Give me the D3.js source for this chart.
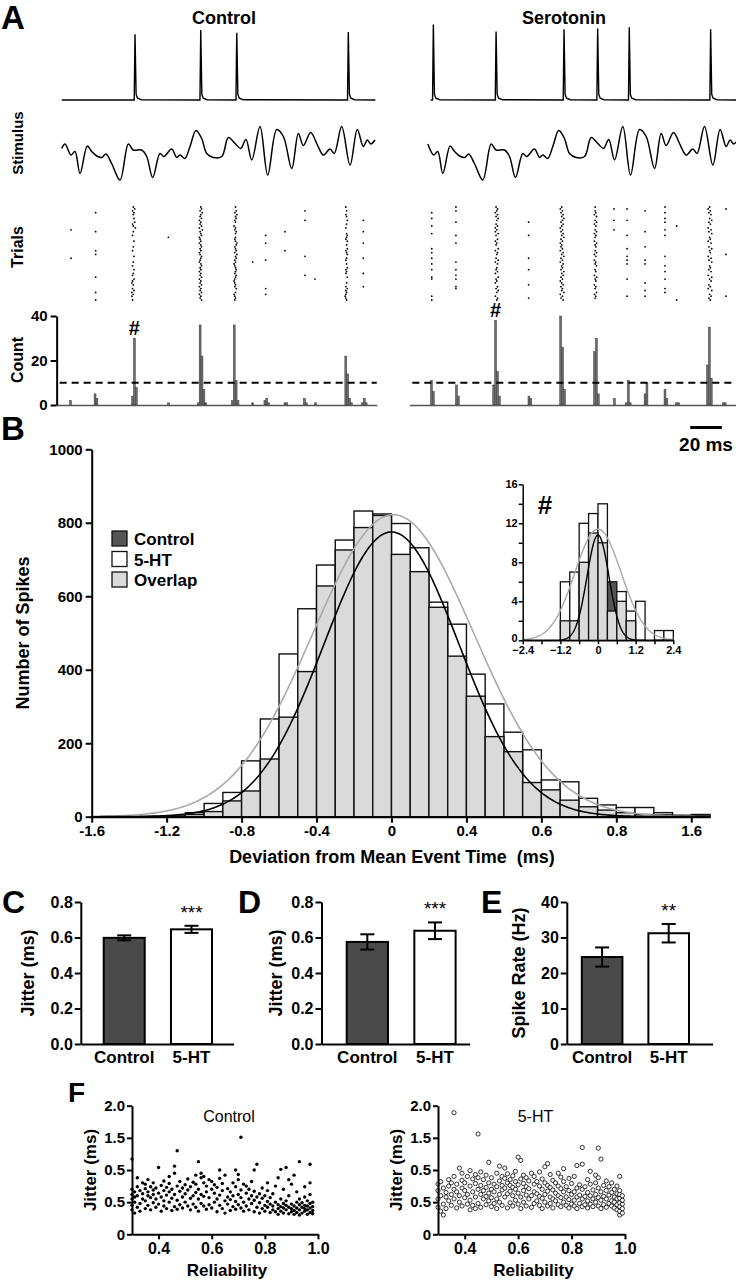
<!DOCTYPE html>
<html><head><meta charset="utf-8">
<script src="https://cdn.jsdelivr.net/npm/d3@7"></script>
<style>body{margin:0;background:#fff}svg{display:block}</style>
</head><body><svg id="c" width="736" height="1280"></svg>
<script>
// ================= DATA =================
// Panel A: stimulus waveform (ms, pA)
const stimT = [0,2.1,5.9,8.4,11.6,16.2,19,22.2,25.3,28,31.6,36.9,42.2,45.3,50.6,53.8,57.6,62.2,64.7,69.6,72.8,74.9,78,81.2,85,88.6,91.8,96,101.3,105.5,109.7,113.3,116.6,120.3,125.5,130.4,136.1,140.3,145.6,149.8,152.9,157.6,161.4,165.6,169.8,172.5,177.2,182.5,187.1,190.9,193.4,195.6,198.3];
const stimV = [3,12,-10,-3,-47,8,-3,-12,-15,-8,-27,-60,12,0,0,-13,-55,-7,-13,2,-15,-10,-17,7,39,23,-7,-15,-13,25,13,3,21,-20,47,-50,41,27,-37,33,9,35,13,-10,2,-7,47,-30,41,7,20,12,20];
// voltage traces: spike times (ms) and peak (mV)
const ctrlSpikeT = [46.4, 88.0, 110.8, 181.4];
const ctrlSpikePeak = [34, 40, 36, 37];
const serSpikeT = [5.6, 45.3, 88.3, 109.6, 129.6, 181.1];
const serSpikePeak = [48, 38, 41, 42, 44, 41];
// raster: dense events (time, per-trial offset code; '.' = no spike)
const ctrlDenseT = [45.3, 87.6, 110.0, 180.3];
const ctrlDenseCode = [
 "46354.5.6347.4.3..5..4.3..5..4.3.5.43.5324.35242.3",
 "56475463546374563453564534654356453546354635463546",
 "4.5364534.24354.4346534536453423454354323435.42343",
 "3.4.34.5.4.3..45435.4.5345.43.4.5343.5..4.35343234"];
const serDenseT = [45.3, 86.4, 108.0, 180.0];
const serDenseCode = [
 "46536475.4635374.6354.7365.4736.5463.7453.6475.365",
 "53647586475364758463546375846375648574635746583647",
 "4.4536.4635.46354.3645.4635.3546.45.3645.354.6354.",
 "53647.5846.3748.5637.4856.3748.5647.3857.4638.5746"];
const ctrlSparseT = [5.9, 21.5, 67.5, 120.9, 129.1, 141.3, 154, 160.3, 190.9];
const ctrlSparseTrials = [[12,27],[3,13,23,25,37,45,49],[16],[29],[15,19,28,43,46],[13,23],[2,7,26,36],[38],[7,13,19,27,35,42]];
const serSparseT = [4.6, 19.9, 65.9, 119.9, 128.2, 139.6, 152.2, 159.6, 190.8];
const serSparseTrials = [[3,6,10,14,22,24,27,30,33,37,38,47,49],[0,2,8,15,19,29,33,36,38,42,43],[8,15,27,33,41,48],[1,7,12],[1,7,15,22,26,28,30,38,47],[2,13,21,28,30,40,44,47],[0,3,6,8,12,15,26,31,34,38,43,45],[10,49],[1,25,47]];
// PSTH (bin start ms, count)
const ctrlHistT = [5,20.5,21.7,44.2,45.4,46.6,67,85.8,87,88.2,89.4,90.6,107.4,108.6,109.8,111,120.3,128,129.2,130.4,140.7,141.9,153,154.2,160,179.2,180.4,181.6,182.8,189.7,190.9,192.1];
const ctrlHistN = [2,5,3,4,30,8,1,1,36,22,7,1,2,36,11,2,1,2,3,1,1,1,3,1,1,22,14,3,1,1,3,1];
const serHistT = [3.8,5,19.6,20.8,43.2,44.4,45.6,46.8,65.5,66.7,85.6,86.8,88,107,108.2,109.4,119.6,127.2,128.4,129.6,139,140.2,151.6,152.8,159,160.2,178.5,179.7,180.9,188.5,189.7];
const serHistN = [11,6,9,4,9,38,15,4,4,3,40,26,7,24,30,5,3,1,11,1,5,10,7,3,1,1,18,35,12,1,1];
const countTicks = [0, 20, 40];
const eventThreshold = 10;

// Panel B: histogram of deviation from mean event time
const devBinStart = [-1.6,-1.5,-1.4,-1.3,-1.2,-1.1,-1.0,-0.9,-0.8,-0.7,-0.6,-0.5,-0.4,-0.3,-0.2,-0.1,0,0.1,0.2,0.3,0.4,0.5,0.6,0.7,0.8,0.9,1.0,1.1,1.2,1.3,1.4,1.5,1.6];
const dev5HT    = [0,0,0,1,2,11,36,66,152,266,443,566,685,753,832,824,798,732,584,524,388,307,230,182,100,95,50,32,25,25,11,4,6];
const devCtrl   = [0,0,0,0,1,6,14,43,70,157,271,395,628,726,787,820,714,667,570,437,328,218,177,93,73,45,27,18,11,6,5,2,3];
const devTickVals = [-1.6,-1.2,-0.8,-0.4,0,0.4,0.8,1.2,1.6];
const devTickLabels = ["-1.6","-1.2","-0.8","-0.4","0","0.4","0.6","0.8","1.6"];
const fitCtrl = [775, 0.0, 0.36];   // amplitude, mean, sd
const fit5HT  = [822, 0.01, 0.43];
// inset (#)
const insBinStart = [-1.2,-0.9,-0.6,-0.3,0,0.3,0.6,0.9,1.2,1.5,1.8,2.1];
const ins5HT  = [6,7,12,13,14,3,5,3,4,0,1,1];
const insCtrl = [2,2,8,11,10,6,4,2,0,0,0,0];
const insFitCtrl = [10.8, 0, 0.35];
const insFit5HT  = [11.4, 0, 0.74];
const legendItems = ["Control","5-HT","Overlap"];

// Panels C-E
const groups = ["Control","5-HT"];
const jitterC = [0.598, 0.646], jitterCErr = [0.014, 0.020];
const jitterD = [0.575, 0.638], jitterDErr = [0.043, 0.047];
const rateE   = [24.5, 31.2],   rateEErr   = [2.7, 2.6];

// Panel F: reliability vs jitter (columns: reliability, jitters)
const scatterCtrl = [
[0.30,[0.38,0.45,0.55,0.62,0.70,1.17]],[0.31,[0.33,0.50,0.58,0.66]],[0.32,[0.42,0.60,0.74,0.88]],[0.33,[0.36,0.48,0.68]],
[0.34,[0.55,0.63,0.80]],[0.35,[0.40,0.52,0.71,0.78]],[0.36,[0.45,0.60,0.66,0.85]],[0.37,[0.38,0.57,0.74]],
[0.38,[0.49,0.62,0.69,0.80]],[0.39,[0.42,0.55,0.72]],[0.40,[0.47,0.64,1.04]],[0.41,[0.36,0.58,0.76]],
[0.42,[0.44,0.52,0.68,0.83]],[0.43,[0.40,0.61,0.73]],[0.44,[0.50,0.66,0.79,0.90]],[0.45,[0.37,0.56,0.70]],
[0.46,[0.43,0.62,0.95,1.06]],[0.47,[0.39,0.53,0.75,1.30]],[0.48,[0.46,0.67,0.82]],[0.49,[0.41,0.58,0.72]],
[0.50,[0.50,0.63,0.77]],[0.51,[0.44,0.69,0.86]],[0.52,[0.38,0.56,0.74]],[0.53,[0.47,0.60,0.81]],
[0.54,[0.42,0.65,0.78,0.92]],[0.55,[0.36,0.55,0.70,1.13]],[0.56,[0.48,0.62,0.88,0.95]],[0.57,[0.44,0.59,0.80,0.90]],
[0.58,[0.39,0.66,0.75]],[0.59,[0.46,0.57,0.85]],[0.60,[0.41,0.70,0.82]],[0.61,[0.50,0.64,0.77]],
[0.62,[0.35,0.55,0.73]],[0.63,[0.45,0.61,0.87,1.00]],[0.64,[0.40,0.68,0.79]],[0.65,[0.33,0.52,0.92]],
[0.66,[0.47,0.58,0.71]],[0.67,[0.37,0.54,0.66]],[0.68,[0.43,0.60,0.80]],[0.69,[0.39,0.51,0.74,1.00]],
[0.70,[0.46,0.62,0.85,0.93]],[0.71,[0.41,0.57,0.69,1.51]],[0.72,[0.36,0.50,0.78]],[0.73,[0.44,0.64,0.75]],
[0.74,[0.38,0.55,0.70]],[0.75,[0.48,0.60,0.82]],[0.76,[0.35,0.53,0.67,1.00]],[0.77,[0.42,0.58,1.09]],
[0.78,[0.33,0.49,0.63]],[0.79,[0.40,0.56,0.72]],[0.80,[0.36,0.45,0.60]],[0.81,[0.42,0.51,0.68,0.80]],
[0.82,[0.34,0.47,0.57]],[0.83,[0.38,0.44,0.63]],[0.84,[0.35,0.50,0.75]],[0.85,[0.31,0.40,0.46,0.88]],
[0.86,[0.36,0.43,0.55,1.01]],[0.87,[0.33,0.41,0.48,0.70]],[0.88,[0.38,0.45,0.52,1.04]],[0.89,[0.32,0.42,0.60,0.85]],
[0.90,[0.35,0.40,0.47,0.78]],[0.91,[0.31,0.37,0.44,0.92]],[0.92,[0.34,0.41,0.50,0.66]],[0.93,[0.30,0.38,0.46,0.55,1.13]],
[0.94,[0.33,0.42,0.49]],[0.95,[0.36,0.40,0.45,0.58,0.74]],[0.96,[0.31,0.38,0.44,0.52]],[0.97,[0.34,0.41,0.48,0.62,0.80,1.09]],
[0.98,[0.32,0.37,0.43,0.50]]];
const scatter5HT = [
[0.30,[0.42,0.55,0.68,0.78]],[0.31,[0.36,0.60,0.82]],[0.32,[0.30,0.47,0.72]],[0.33,[0.40,0.58,0.65]],
[0.34,[0.52,0.75,0.85]],[0.35,[0.45,0.62,0.80]],[0.36,[0.55,0.70,0.90,1.89]],[0.37,[0.41,0.66,0.78]],
[0.38,[0.50,0.60,1.03]],[0.39,[0.44,0.72,0.84,0.95]],[0.40,[0.57,0.68,0.80]],[0.41,[0.47,0.62,0.90]],
[0.42,[0.38,0.53,0.75,0.99]],[0.43,[0.45,0.66,0.86]],[0.44,[0.40,0.58,0.79,0.93]],[0.45,[0.48,0.70,0.88,1.56]],
[0.46,[0.42,0.62,0.76,0.97]],[0.47,[0.55,0.68,0.85]],[0.48,[0.46,0.59,0.73,0.92]],[0.49,[0.52,0.64,0.80,1.12]],
[0.50,[0.43,0.57,0.70,0.88]],[0.51,[0.48,0.66,0.78]],[0.52,[0.40,0.55,0.74,0.95]],[0.53,[0.50,0.62,0.83,1.06]],
[0.54,[0.45,0.69,0.76,0.90]],[0.55,[0.58,0.72,0.87,1.03]],[0.56,[0.41,0.63,0.80,0.94]],[0.57,[0.49,0.67,0.76,0.85]],
[0.58,[0.44,0.60,0.73,0.91]],[0.59,[0.53,0.70,0.82,0.98]],[0.60,[0.47,0.64,0.77,1.20]],[0.61,[0.40,0.58,0.86,1.15]],
[0.62,[0.50,0.68,0.79,0.92]],[0.63,[0.44,0.61,0.74,0.88]],[0.64,[0.55,0.71,0.83]],[0.65,[0.42,0.60,0.95]],
[0.66,[0.48,0.66,0.78,0.90]],[0.67,[0.52,0.63,0.82]],[0.68,[0.45,0.59,0.75,0.97]],[0.69,[0.40,0.56,0.70,0.86]],
[0.70,[0.50,0.62,0.80,1.05]],[0.71,[0.44,0.67,0.76,1.10]],[0.72,[0.48,0.58,0.73,0.93]],[0.73,[0.41,0.55,0.69,0.84]],
[0.74,[0.52,0.64,0.80]],[0.75,[0.46,0.60,0.75,0.95]],[0.76,[0.43,0.57,0.71,0.89]],[0.77,[0.50,0.66,0.82,1.02]],
[0.78,[0.45,0.58,0.74]],[0.79,[0.41,0.54,0.68,0.87]],[0.80,[0.47,0.62,0.79]],[0.81,[0.44,0.53,0.66,0.90]],
[0.82,[0.40,0.58,0.72,1.07]],[0.83,[0.48,0.61,0.77]],[0.84,[0.43,0.55,0.70,1.09,1.35]],[0.85,[0.46,0.59,0.74]],
[0.86,[0.41,0.52,0.65,0.85]],[0.87,[0.47,0.60,0.78,0.98]],[0.88,[0.43,0.55,0.69]],[0.89,[0.50,0.62,0.80,0.92]],
[0.90,[0.44,0.57,0.72,0.88,1.34]],[0.91,[0.40,0.53,0.66,1.17]],[0.92,[0.46,0.59,0.76]],[0.93,[0.42,0.55,0.68,0.83]],
[0.94,[0.48,0.61,0.74]],[0.95,[0.44,0.52,0.65,0.80]],[0.96,[0.41,0.50,0.58,0.70]],[0.97,[0.38,0.46,0.55,0.63,0.75]],
[0.98,[0.30,0.36,0.43,0.49,0.56,0.62,0.68,0.90]],[0.99,[0.33,0.40,0.47,0.53,0.60]]];
const scatYTicks = [0,0.5,1,1.5,2];
const scatYLabels = ["0","0.5","0.5","1.5","2.0"];
const scatXTicks = [0.4,0.6,0.8,1.0];

// ================= DRAW =================
const FONT = "'Liberation Sans', Arial, Helvetica, sans-serif";
const svg = d3.select("#c").attr("font-family", FONT);
svg.append("rect").attr("width",736).attr("height",1280).attr("fill","#fff");

function text(x, y, s, o = {}) {
  const t = svg.append("text").attr("x", x).attr("y", y).text(s)
    .attr("font-size", o.size || 16).attr("font-weight", o.weight || "bold")
    .attr("text-anchor", o.anchor || "middle").attr("fill", "#000")
    .style("white-space", "pre");
  if (o.rotate) t.attr("transform", `rotate(-90,${x},${y})`);
  return t;
}
function styleAxis(g, fs) {
  g.attr("font-family", FONT);
  g.select(".domain").attr("stroke", "#000").attr("stroke-width", 2);
  g.selectAll(".tick line").attr("stroke", "#000").attr("stroke-width", 2);
  g.selectAll(".tick text").attr("font-size", fs).attr("font-weight", "bold").attr("fill", "#000");
}

// ---------- Panel A ----------
text(1, 29, "A", {size: 33, anchor: "start"});
text(224, 24, "Control", {size: 18});
text(564, 24, "Serotonin", {size: 18});
text(23, 143, "Stimulus", {size: 15, rotate: true});
text(23, 247, "Trials", {size: 16, rotate: true});
text(23, 360, "Count", {size: 16, rotate: true});

const xC = d3.scaleLinear().domain([0, 200]).range([61.7, 377.7]);
const xS = d3.scaleLinear().domain([0, 200]).range([424.5, 740.5]);
const yV = d3.scaleLinear().domain([-60, 40]).range([100, 30]);
const yStim = d3.scaleLinear().domain([-100, 100]).range([200, 100]);
const yTrial = d3.scaleLinear().domain([0, 49]).range([207, 300]);
const yCount = d3.scaleLinear().domain([0, 40]).range([405, 316]);

function vmPoints(spT, spP, t0, t1) {
  const pts = [[t0, -60]];
  spT.forEach((t, i) => {
    pts.push([Math.max(t0, t - 0.5), -60], [t, spP[i]], [t + 0.7, -52], [t + 1.6, -57.5], [t + 4, -59.6]);
  });
  pts.push([t1, -60]);
  return pts;
}
function drawPanelA(x, spT, spP, t0, t1, denseT, denseCode, sparseT, sparseTrials, histT, histN, axisFrom, axisTo, withYAxis) {
  svg.append("path").datum(vmPoints(spT, spP, t0, t1))
    .attr("d", d3.line().x(d => x(d[0])).y(d => yV(d[1])))
    .attr("fill", "none").attr("stroke", "#000").attr("stroke-width", 1.4);
  const stim = stimT.map((t, i) => [t, stimV[i]]).filter(d => d[0] >= t0 - 2);
  svg.append("path").datum(stim)
    .attr("d", d3.line().curve(d3.curveCatmullRom.alpha(0.5)).x(d => x(d[0])).y(d => yStim(d[1])))
    .attr("fill", "none").attr("stroke", "#000").attr("stroke-width", 1.5);
  // raster
  const dots = [];
  denseT.forEach((t, k) => {
    denseCode[k].split("").forEach((c, i) => { if (c !== ".") dots.push([t + (+c - 4) * 0.45, i]); });
  });
  sparseT.forEach((t, k) => sparseTrials[k].forEach(i => dots.push([t, i])));
  svg.append("g").selectAll("circle").data(dots).join("circle")
    .attr("cx", d => x(d[0])).attr("cy", d => yTrial(d[1])).attr("r", 0.9).attr("fill", "#000");
  // histogram
  svg.append("g").selectAll("rect").data(histT.map((t, i) => [t, histN[i]])).join("rect")
    .attr("x", d => x(d[0])).attr("width", x(1.2) - x(0))
    .attr("y", d => yCount(d[1])).attr("height", d => yCount(0) - yCount(d[1]))
    .attr("fill", "#6e6e6e").attr("stroke", "#3a3a3a").attr("stroke-width", 0.5);
  // threshold line
  svg.append("line").attr("x1", x(axisFrom) + 3).attr("x2", x(axisTo))
    .attr("y1", yCount(eventThreshold)).attr("y2", yCount(eventThreshold))
    .attr("stroke", "#000").attr("stroke-width", 2).attr("stroke-dasharray", "7,5");
  // x axis line
  const xa = d3.scaleLinear().domain([axisFrom, axisTo]).range([x(axisFrom), x(axisTo)]);
  const g = svg.append("g").attr("transform", `translate(0,${yCount(0)})`)
    .call(d3.axisBottom(xa).tickValues([]).tickSizeOuter(0));
  styleAxis(g, 15);
  g.select(".domain").attr("stroke", "#555").attr("stroke-width", 1.5);
  if (withYAxis) {
    const gy = svg.append("g").attr("transform", `translate(${x(axisFrom)},0)`)
      .call(d3.axisLeft(yCount).tickValues(countTicks).tickSize(6).tickSizeOuter(0));
    styleAxis(gy, 15);
  }
}
drawPanelA(xC, ctrlSpikeT, ctrlSpikePeak, 0, 198.5, ctrlDenseT, ctrlDenseCode, ctrlSparseT, ctrlSparseTrials, ctrlHistT, ctrlHistN, -3.2, 199.4, true);
drawPanelA(xS, serSpikeT, serSpikePeak, 3.9, 198.3, serDenseT, serDenseCode, serSparseT, serSparseTrials, serHistT, serHistN, -9.6, 198.5, false);
// # markers over the example event
text(xC(ctrlHistT[4] + 0.6), yCount(ctrlHistN[4]) - 3, "#", {size: 20});
text(xS(serHistT[5] + 0.6), yCount(serHistN[5]) - 3, "#", {size: 20});
// scale bar 20 ms
svg.append("line").attr("x1", xS(168.2)).attr("x2", xS(188.2)).attr("y1", 427.5).attr("y2", 427.5)
  .attr("stroke", "#000").attr("stroke-width", 3);
text(706, 451, "20 ms", {size: 19});

// ---------- Panel B ----------
text(1, 440, "B", {size: 33, anchor: "start"});
const xB = d3.scaleLinear().domain([-1.6, 1.7]).range([91.7, 710]);
const yB = d3.scaleLinear().domain([0, 1000]).range([816.7, 449.3]);
function drawHist(x, y, starts, h5, hc, w, sw) {
  const rows = starts.map((s, i) => ({s, h: h5[i], c: hc[i]})).filter(d => d.h > 0 || d.c > 0);
  const bw = x(starts[0] + w) - x(starts[0]);
  const g = svg.append("g");
  g.selectAll(".mx").data(rows).join("rect")
    .attr("x", d => x(d.s)).attr("width", bw)
    .attr("y", d => y(Math.max(d.h, d.c))).attr("height", d => y(0) - y(Math.max(d.h, d.c)))
    .attr("fill", d => d.c > d.h ? "#555" : "#fff").attr("stroke", "#111").attr("stroke-width", sw);
  g.selectAll(".mn").data(rows.filter(d => Math.min(d.h, d.c) > 0)).join("rect")
    .attr("x", d => x(d.s)).attr("width", bw)
    .attr("y", d => y(Math.min(d.h, d.c))).attr("height", d => y(0) - y(Math.min(d.h, d.c)))
    .attr("fill", "#dadada").attr("stroke", "#111").attr("stroke-width", sw);
}
drawHist(xB, yB, devBinStart, dev5HT, devCtrl, 0.1, 1.4);
function gauss(p, v) { return p[0] * Math.exp(-((v - p[1]) ** 2) / (2 * p[2] * p[2])); }
const bx = d3.range(-1.6, 1.7001, 0.01);
svg.append("path").datum(bx).attr("d", d3.line().x(v => xB(v)).y(v => yB(gauss(fit5HT, v))))
  .attr("fill", "none").attr("stroke", "#aaa").attr("stroke-width", 1.6);
svg.append("path").datum(bx).attr("d", d3.line().x(v => xB(v)).y(v => yB(gauss(fitCtrl, v))))
  .attr("fill", "none").attr("stroke", "#000").attr("stroke-width", 1.6);
const gBx = svg.append("g").attr("transform", `translate(0,${yB(0)})`)
  .call(d3.axisBottom(xB).tickValues(devTickVals).tickFormat((d, i) => devTickLabels[i]).tickSize(6).tickSizeOuter(0).tickPadding(3));
styleAxis(gBx, 15);
const gBy = svg.append("g").attr("transform", `translate(${xB(-1.6)},0)`)
  .call(d3.axisLeft(yB).ticks(5).tickFormat(d3.format("d")).tickSize(6).tickSizeOuter(0).tickPadding(3));
styleAxis(gBy, 15);
text(29, 633, "Number of Spikes", {size: 18, rotate: true});
text(392, 863, "Deviation from Mean Event Time  (ms)", {size: 18});
// legend
const legFill = ["#555", "#fff", "#dadada"];
legendItems.forEach((s, i) => {
  svg.append("rect").attr("x", 112).attr("y", 531 + i * 20.5).attr("width", 15).attr("height", 15)
    .attr("fill", legFill[i]).attr("stroke", "#111").attr("stroke-width", 1.3);
  text(134, 545 + i * 20.5, s, {size: 17, anchor: "start"});
});
// inset
const xI = d3.scaleLinear().domain([-2.4, 2.4]).range([522.7, 673.3]);
const yI = d3.scaleLinear().domain([0, 16]).range([640.3, 484.3]);
drawHist(xI, yI, insBinStart, ins5HT, insCtrl, 0.3, 1.3);
const ix = d3.range(-2.4, 2.4001, 0.02);
svg.append("path").datum(ix).attr("d", d3.line().x(v => xI(v)).y(v => yI(gauss(insFit5HT, v))))
  .attr("fill", "none").attr("stroke", "#aaa").attr("stroke-width", 1.4);
svg.append("path").datum(ix).attr("d", d3.line().x(v => xI(v)).y(v => yI(gauss(insFitCtrl, v))))
  .attr("fill", "none").attr("stroke", "#000").attr("stroke-width", 1.4);
const gIx = svg.append("g").attr("transform", `translate(0,${yI(0)})`)
  .call(d3.axisBottom(xI).tickValues(d3.range(-2.4, 2.41, 0.6)).tickFormat(d => Math.abs(Math.round(d * 10) % 12) === 0 ? (Math.abs(d) < 1e-9 ? "0" : d3.format(".1f")(d)) : "").tickSize(4).tickSizeOuter(0).tickPadding(2));
styleAxis(gIx, 11);
gIx.selectAll(".domain, .tick line").attr("stroke-width", 1.5);
const gIy = svg.append("g").attr("transform", `translate(${xI(-2.4)},0)`)
  .call(d3.axisLeft(yI).tickValues(d3.range(0, 17, 2)).tickFormat(d => d % 4 === 0 ? d : "").tickSize(4).tickSizeOuter(0).tickPadding(1));
styleAxis(gIy, 11);
gIy.selectAll(".domain, .tick line").attr("stroke-width", 1.5);
gIy.selectAll(".tick text").attr("dy", d => d === 0 ? "0.1em" : "0.32em");
text(545, 514, "#", {size: 26});

// ---------- Panels C, D, E ----------
function barPanel(letter, lx, axisX, barRange, axisEnd, vals, errs, maxV, tickVals, fmt, ylabel, ylx, stars) {
  const y = d3.scaleLinear().domain([0, maxV]).range([1044, 902]);
  const x = d3.scaleBand().domain(groups).range(barRange).paddingInner(0.39).paddingOuter(0);
  text(lx, 913, letter, {size: 32, anchor: "start"});
  svg.append("g").selectAll("rect").data(groups).join("rect")
    .attr("x", d => x(d)).attr("width", x.bandwidth())
    .attr("y", (d, i) => y(vals[i])).attr("height", (d, i) => y(0) - y(vals[i]))
    .attr("fill", (d, i) => i === 0 ? "#4a4a4a" : "#fff").attr("stroke", "#000").attr("stroke-width", 2);
  groups.forEach((gname, i) => {
    const cx = x(gname) + x.bandwidth() / 2;
    const e = svg.append("g").attr("stroke", "#000").attr("stroke-width", 2);
    e.append("line").attr("x1", cx).attr("x2", cx).attr("y1", y(vals[i] - errs[i])).attr("y2", y(vals[i] + errs[i]));
    [vals[i] - errs[i], vals[i] + errs[i]].forEach(v =>
      e.append("line").attr("x1", cx - 7).attr("x2", cx + 7).attr("y1", y(v)).attr("y2", y(v)));
    text(cx, 1063, gname, {size: 17});
  });
  const c5 = x("5-HT") + x.bandwidth() / 2;
  text(c5, y(vals[1] + errs[1]) - 7, stars, {size: 19, weight: "normal"});
  const ga = svg.append("g").attr("transform", `translate(${axisX},0)`)
    .call(d3.axisLeft(y).tickValues(tickVals).tickFormat(fmt).tickSize(6).tickSizeOuter(0).tickPadding(2));
  styleAxis(ga, 16);
  const xa = d3.scaleLinear().domain([0, 1]).range([axisX, axisEnd]);
  const gx = svg.append("g").attr("transform", `translate(0,1044)`)
    .call(d3.axisBottom(xa).tickValues([]).tickSizeOuter(0));
  styleAxis(gx, 16);
  text(ylx, 973, ylabel, {size: 18, rotate: true});
}
barPanel("C", 2, 80.8, [103.7, 212], 233.6, jitterC, jitterCErr, 0.8, [0, 0.2, 0.4, 0.6, 0.8], d3.format(".1f"), "Jitter (ms)", 34, "***");
barPanel("D", 238, 321.5, [346.7, 455.6], 469.6, jitterD, jitterDErr, 0.8, [0, 0.2, 0.4, 0.6, 0.8], d3.format(".1f"), "Jitter (ms)", 282, "***");
barPanel("E", 481, 566.8, [581.8, 689], 712.6, rateE, rateEErr, 40, [0, 10, 20, 30, 40], d3.format("d"), "Spike Rate (Hz)", 525, "**");

// ---------- Panel F ----------
text(68, 1102, "F", {size: 28, anchor: "start"});
const yF = d3.scaleLinear().domain([0, 2]).range([1234.3, 1105.7]);
function scatterPanel(x0, x1, data, filled, title, ylx) {
  const x = d3.scaleLinear().domain([0.3, 1.0]).range([x0, x1]);
  const pts = [];
  data.forEach(([r, js]) => js.forEach(j => pts.push([r, j])));
  svg.append("g").selectAll("circle").data(pts).join("circle")
    .attr("cx", d => x(d[0])).attr("cy", d => yF(d[1]))
    .attr("r", filled ? 1.7 : 2.1)
    .attr("fill", filled ? "#000" : "#fff").attr("stroke", "#000").attr("stroke-width", filled ? 0 : 0.8);
  const gy = svg.append("g").attr("transform", `translate(${x0},0)`)
    .call(d3.axisLeft(yF).tickValues(scatYTicks).tickFormat((d, i) => scatYLabels[i]).tickSize(5).tickSizeOuter(0).tickPadding(2));
  styleAxis(gy, 15);
  const gx = svg.append("g").attr("transform", `translate(0,${yF(0)})`)
    .call(d3.axisBottom(x).tickValues(scatXTicks).tickFormat(d3.format(".1f")).tickSize(5).tickSizeOuter(0).tickPadding(3));
  styleAxis(gx, 16);
  text((x0 + x1) / 2 + 4, 1122, title, {size: 16, weight: "normal"});
  text((x0 + x1) / 2 + 2, 1276, "Reliability", {size: 17});
  text(ylx, 1170, "Jitter (ms)", {size: 17, rotate: true});
}
scatterPanel(132, 318, scatterCtrl, true, "Control", 96);
scatterPanel(438, 625, scatter5HT, false, "5-HT", 402);
</script></body></html>
